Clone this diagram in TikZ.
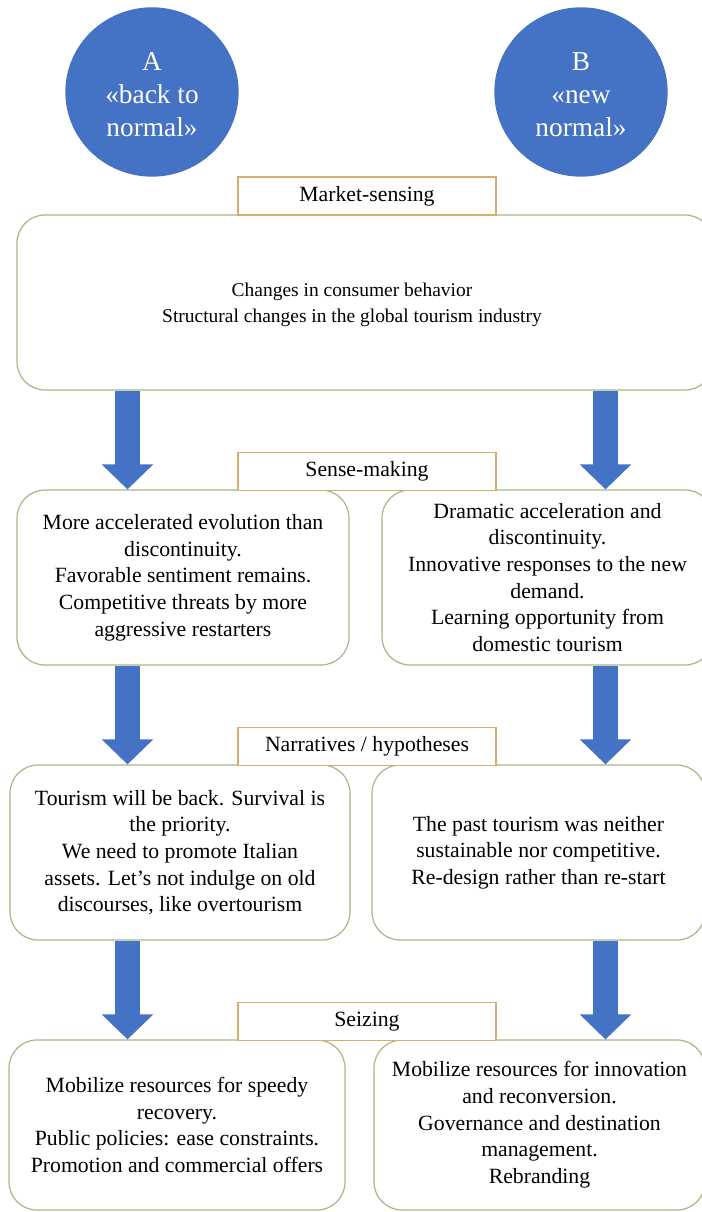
\documentclass[tikz,border=0pt]{standalone}
\usepackage{fontspec}
\setmainfont{Liberation Serif}
\usetikzlibrary{arrows.meta,shapes.geometric}
\definecolor{cblue}{HTML}{4472C4}
\definecolor{boxgreen}{RGB}{165,183,135}
\definecolor{labtan}{RGB}{214,172,112}
\tikzset{
  box/.style={draw=boxgreen, line width=0.9pt, rounded corners=21pt, fill=white,
    inner sep=0pt, align=center, font=\fontsize{16.3}{20}\selectfont},
  boxtext/.style={inner sep=0pt, align=center, font=\fontsize{14.6}{19.5}\selectfont},
  lab/.style={draw=labtan, line width=0.8pt, fill=white, inner sep=0pt,
    minimum width=193.5pt, minimum height=28pt,
    font=\fontsize{16.3}{20}\selectfont},
  circ/.style={ellipse, fill=cblue, inner sep=0pt,
    minimum width=130pt, minimum height=127pt},
  circtext/.style={text=white, inner sep=0pt, align=center,
    font=\fontsize{20.5}{24.75}\selectfont},
  blockarrow/.style={draw=cblue, line width=18.75pt,
    -{Triangle[width=37.5pt,length=18.75pt]}}
}
\begin{document}
\begin{tikzpicture}[x=0.75pt,y=-0.75pt]
\useasboundingbox (0,0) rectangle (702,1212);
\clip (0,0) rectangle (702,1212);
\fill[white] (0,0) rectangle (702,1212);

\node[circ] (A) at (152,92) {};
\node[circtext] (At) at (152,95) {A\\«back to\\normal»};
\node[circ] (B) at (581,92) {};
\node[circtext] (Bt) at (581,95) {B\\«new\\normal»};

\node[box, minimum width=522pt, minimum height=131.25pt] (big) at (365,302.5) {};
\node[boxtext] (bigt) at (352,305) {Changes in consumer behavior\\Structural changes in the global tourism industry};

\node[box, minimum width=249pt, minimum height=131.25pt] (sl) at (183,577.5) {More accelerated evolution than\\discontinuity.\\Favorable sentiment remains.\\Competitive threats by more\\aggressive restarters};
\node[box, minimum width=248.25pt, minimum height=131.25pt] (sr) at (547.5,577.5) {Dramatic acceleration and\\discontinuity.\\Innovative responses to the new\\demand.\\Learning opportunity from\\domestic tourism};

\node[box, minimum width=255pt, minimum height=131.25pt] (nl) at (180,852.5) {Tourism will be back. Survival is\\the priority.\\We need to promote Italian\\assets. Let’s not indulge on old\\discourses, like overtourism};
\node[box, minimum width=249.75pt, minimum height=131.25pt] (nr) at (538.5,852.5) {The past tourism was neither\\sustainable nor competitive.\\Re-design rather than re-start};

\node[box, minimum width=252pt, minimum height=127.5pt] (zl) at (177,1125) {Mobilize resources for speedy\\recovery.\\Public policies: ease constraints.\\Promotion and commercial offers};
\node[box, minimum width=248.25pt, minimum height=127.5pt] (zr) at (539.5,1125) {Mobilize resources for innovation\\and reconversion.\\Governance and destination\\management.\\Rebranding};

\node[lab, minimum height=28.5pt] (l1) at (367,196) {Market-sensing};
\node[lab] (l2) at (367,471.5) {Sense-making};
\node[lab] (l3) at (367,746.5) {Narratives / hypotheses};
\node[lab] (l4) at (367,1021.5) {Seizing};

\coordinate (xl) at (127.5,0);
\coordinate (xr) at (605.5,0);
\draw[blockarrow] (big.south -| xl) -- (sl.north -| xl);
\draw[blockarrow] (big.south -| xr) -- (sr.north -| xr);
\draw[blockarrow] (sl.south -| xl) -- (nl.north -| xl);
\draw[blockarrow] (sr.south -| xr) -- (nr.north -| xr);
\draw[blockarrow] (nl.south -| xl) -- (zl.north -| xl);
\draw[blockarrow] (nr.south -| xr) -- (zr.north -| xr);
\end{tikzpicture}
\end{document}
